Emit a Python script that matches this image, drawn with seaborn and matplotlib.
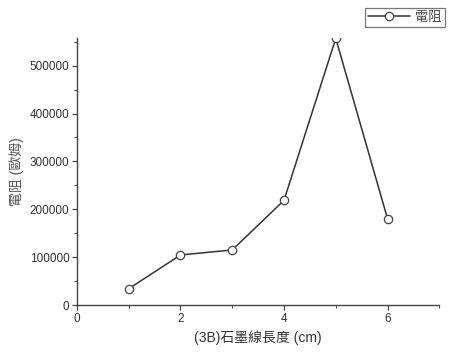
import matplotlib
matplotlib.use("Agg")
import matplotlib.pyplot as plt
import seaborn as sns
import pandas as pd
from matplotlib.ticker import MultipleLocator

lengths = [1, 2, 3, 4, 5, 6]
resistance = [34000, 104500, 115000, 218700, 557000, 180300]
series_name = "電阻"
x_label = "(3B)石墨線長度 (cm)"
y_label = "電阻 (歐姆)"

df = pd.DataFrame({"x": lengths, "y": resistance, "s": series_name})

sns.set_style("ticks")
plt.rcParams["font.family"] = ["Liberation Sans", "Noto Sans CJK TC", "DejaVu Sans"]

fig = plt.figure(figsize=(4.51, 3.52), dpi=100)
ax = fig.add_axes([0.1707, 0.1335, 0.974 - 0.1707, 0.891 - 0.1335])

sns.lineplot(data=df, x="x", y="y", ax=ax, color="#333333", linewidth=1.1,
             marker="o", markersize=6, markerfacecolor="white",
             markeredgecolor="#444444", markeredgewidth=0.9, label=series_name,
             legend=False)

ax.set_xlim(0, 7)
ax.set_ylim(0, 557000)
ax.xaxis.set_major_locator(MultipleLocator(2))
ax.xaxis.set_minor_locator(MultipleLocator(1))
ax.yaxis.set_major_locator(MultipleLocator(100000))
ax.yaxis.set_minor_locator(MultipleLocator(50000))
ax.ticklabel_format(axis="y", style="plain")

for s in ["top", "right"]:
    ax.spines[s].set_visible(False)
for s in ["left", "bottom"]:
    ax.spines[s].set_color("#444444")
    ax.spines[s].set_linewidth(1.0)

ax.tick_params(axis="both", which="major", direction="out", length=3.5, width=0.9,
               color="#444444", labelsize=8.5, labelcolor="#333333", pad=2)
ax.tick_params(axis="both", which="minor", direction="out", length=2, width=0.8,
               color="#444444")

ax.set_xlabel(x_label, fontsize=10, color="#333333", labelpad=4)
ax.set_ylabel(y_label, fontsize=10, color="#555555", labelpad=4)

handles, labels = ax.get_legend_handles_labels()
leg = fig.legend(handles, labels, loc="upper right", bbox_to_anchor=(0.987, 0.977),
                 fontsize=9.5, frameon=True, fancybox=False, edgecolor="#555555",
                 handlelength=3.2, handletextpad=0.4, borderpad=0.25, borderaxespad=0)
leg.get_frame().set_linewidth(0.9)
for t in leg.get_texts():
    t.set_color("#444444")

fig.savefig("out.png", dpi=100)
